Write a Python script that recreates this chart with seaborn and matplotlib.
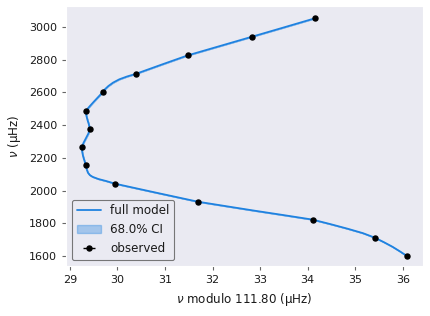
import matplotlib
matplotlib.use("Agg")
import matplotlib.pyplot as plt
import seaborn as sns
import pandas as pd

# observed modes
obs_x = [36.08, 35.41, 34.10, 31.69, 29.95, 29.34, 29.25, 29.42, 29.34, 29.69,
         30.39, 31.48, 32.82, 34.15]
obs_nu = [1601.3, 1712.4, 1822.9, 1932.3, 2042.4, 2153.5, 2265.3, 2377.2, 2488.9,
          2601.1, 2713.6, 2826.5, 2939.6, 3052.8]
obs_xerr = [0.03] * len(obs_x)

# full model curve
model_nu = [1601.3, 1630, 1657, 1685, 1712.4, 1740, 1767, 1795, 1822.9, 1850, 1877,
            1905, 1932.3, 1960, 1987, 2015, 2042.4, 2058, 2071, 2084, 2095, 2110,
            2126, 2140, 2153.5, 2180, 2209, 2237, 2265.3, 2293, 2321, 2349, 2377.2,
            2405, 2433, 2461, 2488.9, 2516, 2545, 2573, 2601.1, 2620, 2639, 2660,
            2680, 2697, 2713.6, 2770, 2826.5, 2883, 2939.6, 2996, 3052.8]
model_x = [36.08, 35.93, 35.78, 35.60, 35.41, 35.16, 34.84, 34.48, 34.10, 33.50, 32.89,
           32.28, 31.69, 31.25, 30.82, 30.38, 29.95, 29.77, 29.60, 29.48, 29.42, 29.38,
           29.36, 29.345, 29.34, 29.31, 29.28, 29.26, 29.25, 29.29, 29.34, 29.39, 29.42,
           29.40, 29.37, 29.345, 29.34, 29.42, 29.51, 29.60, 29.69, 29.74, 29.81, 29.91,
           30.04, 30.20, 30.39, 30.93, 31.48, 32.15, 32.82, 33.485, 34.15]

sns.set_style("dark", {"xtick.bottom": True, "ytick.left": True,
                       "xtick.color": ".15", "ytick.color": ".15"})
plt.rcParams["font.family"] = ["DejaVu Sans"]
plt.rcParams.update({"xtick.major.size": 3.0, "ytick.major.size": 3.0,
                     "xtick.major.width": 0.8, "ytick.major.width": 0.8,
                     "xtick.labelsize": 8, "ytick.labelsize": 8})

fig = plt.figure(figsize=(4.30, 3.16), dpi=100)
ax = fig.add_axes([0.1535, 0.158, 0.830, 0.823])

df = pd.DataFrame({"x": model_x, "nu": model_nu})
line_color = "#1f82e0"
sns.lineplot(data=df, x="x", y="nu", sort=False, estimator=None, ax=ax,
             color=line_color, lw=1.3, label="full model")
ax.fill_betweenx(model_nu, model_x, model_x, color=line_color, alpha=0.35,
                 label="68.0% CI")
ax.errorbar(obs_x, obs_nu, xerr=obs_xerr, fmt="o", color="k", ms=3.6,
            elinewidth=1, label="observed", zorder=5)

ax.set_xlim(28.92, 36.42)
ax.set_ylim(1539, 3128)
ax.set_xticks([29, 30, 31, 32, 33, 34, 35, 36])
ax.set_yticks([1600, 1800, 2000, 2200, 2400, 2600, 2800, 3000])
ax.tick_params(colors=".4", labelcolor=".1")
ax.set_xlabel(r"$\nu$ modulo 111.80 (μHz)", fontsize=8.6, color=".1")
ax.set_ylabel(r"$\nu$ (μHz)", fontsize=8.6, color=".1")

leg = ax.legend(loc="lower left", fontsize=8.6, frameon=True, framealpha=0.8,
                edgecolor="0.35", fancybox=True)
for t in leg.get_texts():
    t.set_color(".1")
leg.get_frame().set_linewidth(0.8)

fig.savefig("out.png", dpi=100)
